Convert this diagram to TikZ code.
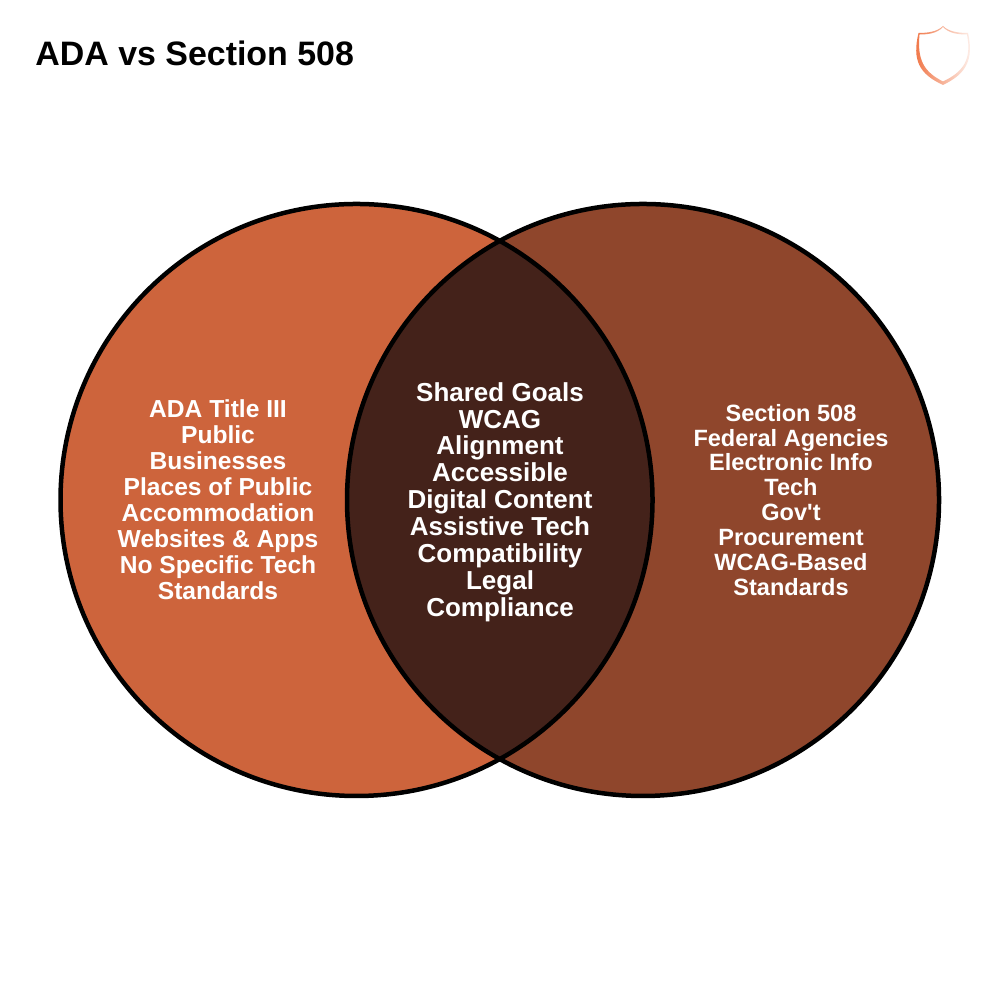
\documentclass[tikz,border=0pt]{standalone}
\usepackage{fontspec}
\setmainfont{Liberation Sans}
\definecolor{adafill}{HTML}{CD643C}
\definecolor{secfill}{HTML}{8F462C}
\definecolor{lensfill}{HTML}{44221A}
\definecolor{shieldorange}{HTML}{F0703F}
\tikzset{
  vennline/.style={line width=0.045cm,draw=black},
  venntext/.style={text=white,font=\bfseries\fontsize{7.0}{7.4}\selectfont,align=center}
}
\begin{document}
\begin{tikzpicture}
\useasboundingbox (0,0) rectangle (10,10);
\fill[white] (0,0) rectangle (10,10);

\node[anchor=west,font=\bfseries\fontsize{9.65}{12}\selectfont] (title) at (0.23,9.47) {ADA vs Section 508};

% shield
\path[even odd rule,left color=shieldorange,middle color=shieldorange!75!white,right color=shieldorange!6!white]
  (9.43,9.74) .. controls (9.37,9.68) and (9.27,9.67) .. (9.185,9.67)
  .. controls (9.12,9.4) and (9.19,9.26) .. (9.43,9.15)
  .. controls (9.66,9.26) and (9.74,9.4) .. (9.68,9.67)
  .. controls (9.59,9.67) and (9.49,9.68) .. (9.43,9.74) -- cycle
  (9.43,9.73) .. controls (9.37,9.665) and (9.28,9.655) .. (9.195,9.655)
  .. controls (9.17,9.4) and (9.24,9.28) .. (9.43,9.185)
  .. controls (9.63,9.28) and (9.72,9.4) .. (9.67,9.655)
  .. controls (9.58,9.655) and (9.49,9.665) .. (9.43,9.73) -- cycle;

% circles
\fill[adafill] (3.565,5) circle(2.96);
\fill[secfill] (6.43,5) circle(2.96);
\begin{scope}
\clip (3.565,5) circle(2.96);
\fill[lensfill] (6.43,5) circle(2.96);
\end{scope}
\draw[vennline] (3.565,5) circle(2.96);
\draw[vennline] (6.43,5) circle(2.96);

\node[venntext] (adatext) at (2.18,5) {ADA Title III\\Public\\Businesses\\Places of Public\\Accommodation\\Websites \& Apps\\No Specific Tech\\Standards};
\node[venntext,font=\bfseries\fontsize{7.4}{7.65}\selectfont] (shared) at (5,4.98) {Shared Goals\\WCAG\\Alignment\\Accessible\\Digital Content\\Assistive Tech\\Compatibility\\Legal\\Compliance};
\node[venntext,font=\bfseries\fontsize{6.7}{7.1}\selectfont] (sectext) at (7.91,5) {Section 508\\Federal Agencies\\Electronic Info\\Tech\\Gov\textquotesingle t\\Procurement\\WCAG-Based\\Standards};
\end{tikzpicture}
\end{document}
